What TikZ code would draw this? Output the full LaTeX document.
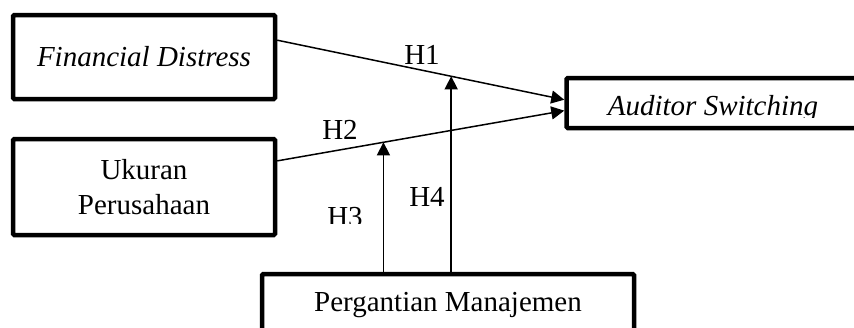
\documentclass[tikz,border=0pt]{standalone}
\usepackage{fontspec}
\setmainfont{Liberation Serif}
\usetikzlibrary{arrows.meta,calc}

\begin{document}
\begin{tikzpicture}[x=0.5pt,y=-0.5pt,
  box/.style={draw, line width=2.25pt, rounded corners=0.6pt, inner sep=0pt, align=center, font=\fontsize{14.5}{17.5}\selectfont},
  link/.style={line width=0.75pt, -{Triangle[length=6.5pt,width=6.5pt]}},
  hyp/.style={inner sep=0pt, font=\fontsize{14.5}{16}\selectfont}]
\useasboundingbox (0,0) rectangle (854,327);
% variabel
\node[box, minimum width=131pt, minimum height=42pt] (fd) at (144,57) {\textit{Financial Distress}};
\node[box, minimum width=131pt, minimum height=48pt] (uk) at (144,187) {Ukuran\\Perusahaan};
\node[box, minimum width=157pt, minimum height=25pt] (as) at (723.5,103) {};
\node[box, minimum width=186pt, minimum height=31pt] (pm) at (448,305) {Pergantian Manajemen};
\begin{scope}
\clip (567,78) rectangle (854,117);
\node[anchor=base, font=\fontsize{14.5}{16}\selectfont\itshape] (aslabel) at (713,115) {Auditor Switching};
\end{scope}
% garis hubungan
\coordinate (fdout) at ($(fd.north east)!0.31!(fd.south east)$);
\coordinate (ukout) at ($(uk.north east)!0.24!(uk.south east)$);
\coordinate (asin1) at ($(as.north west)!0.44!(as.south west)$);
\coordinate (asin2) at ($(as.north west)!0.64!(as.south west)$);
\draw[link] (fdout) -- (asin1);
\draw[link] (ukout) -- (asin2);
\coordinate (m1) at ($(fdout)!0.606!(asin1)$);
\coordinate (m2) at ($(ukout)!0.37!(asin2)$);
\draw[link] (pm.north -| m1) -- (m1);
\draw[link] (pm.north -| m2) -- (m2);
% label hipotesis
\node[hyp] (h1) at (422,55) {H1};
\node[hyp] (h2) at (340,130) {H2};
\node[hyp] (h4) at (427,197) {H4};
\begin{scope}
\clip (300,190) rectangle (380,223);
\node[hyp] (h3) at (345,217) {H3};
\end{scope}
\end{tikzpicture}
\end{document}
